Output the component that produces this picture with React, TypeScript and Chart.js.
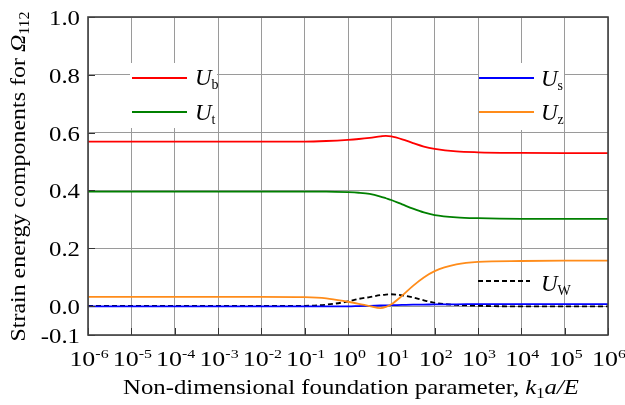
import { useEffect, useRef } from "react";
import { Chart, registerables } from "chart.js";
Chart.register(...registerables);

// ---- data ----
const xExponents = [-6, -5, -4, -3, -2, -1, -0.5, 0, 0.25, 0.5, 0.75, 0.875, 1, 1.25, 1.5, 1.75, 2, 2.5, 3, 4, 5, 6];
const Ub = [0.569, 0.569, 0.569, 0.569, 0.569, 0.569, 0.571, 0.575, 0.578, 0.582, 0.587, 0.589, 0.587, 0.577, 0.564, 0.552, 0.544, 0.535, 0.532, 0.530, 0.529, 0.529];
const Ut = [0.396, 0.396, 0.396, 0.396, 0.396, 0.396, 0.396, 0.394, 0.392, 0.388, 0.379, 0.373, 0.367, 0.352, 0.337, 0.324, 0.315, 0.307, 0.304, 0.302, 0.302, 0.302];
const Us = [-0.001, -0.001, -0.001, -0.001, -0.001, -0.001, -0.001, -0.001, 0.0, 0.001, 0.002, 0.0025, 0.003, 0.004, 0.005, 0.005, 0.006, 0.006, 0.007, 0.007, 0.007, 0.007];
const Uz = [0.032, 0.032, 0.032, 0.032, 0.032, 0.031, 0.027, 0.015, 0.008, 0.0, -0.007, -0.003, 0.006, 0.036, 0.07, 0.099, 0.121, 0.144, 0.153, 0.156, 0.157, 0.157];
const Uw = [0.001, 0.001, 0.001, 0.001, 0.001, 0.001, 0.005, 0.016, 0.025, 0.031, 0.038, 0.040, 0.041, 0.037, 0.030, 0.020, 0.011, 0.004, 0.001, -0.001, -0.001, -0.001];

const xTickExponents = [-6, -5, -4, -3, -2, -1, 0, 1, 2, 3, 4, 5, 6];
const yTickValues = [-0.1, 0.0, 0.2, 0.4, 0.6, 0.8, 1.0];
const yTickLabels = ["-0.1", "0.0", "0.2", "0.4", "0.6", "0.8", "1.0"];

const SERIF = '"Liberation Serif", "Times New Roman", serif';
const SX = 1.18;

type Run = { t: string; f: string; dy?: number };

function runsWidth(ctx: CanvasRenderingContext2D, runs: Run[], sx: number) {
  let w = 0;
  for (const r of runs) {
    ctx.font = r.f;
    w += ctx.measureText(r.t).width * sx;
  }
  return w;
}

function drawRuns(ctx: CanvasRenderingContext2D, runs: Run[], x: number, y: number, align: "left" | "center" | "right", sx: number) {
  const w = runsWidth(ctx, runs, sx);
  let cx = align === "left" ? x : align === "center" ? x - w / 2 : x - w;
  ctx.textAlign = "left";
  ctx.textBaseline = "alphabetic";
  for (const r of runs) {
    ctx.font = r.f;
    const rw = ctx.measureText(r.t).width;
    ctx.save();
    ctx.translate(cx, y + (r.dy || 0));
    ctx.scale(sx, 1);
    ctx.fillText(r.t, 0, 0);
    ctx.restore();
    cx += rw * sx;
  }
}

const decorPlugin = {
  id: "decor",
  afterDatasetsDraw(chart: any) {
    const ctx: CanvasRenderingContext2D = chart.ctx;
    const { left, right, top, bottom } = chart.chartArea;
    const xs = chart.scales.x;
    const ys = chart.scales.y;
    ctx.save();

    // legend boxes
    ctx.fillStyle = "#fff";
    ctx.fillRect(130, 63, 87, 65);
    ctx.fillRect(479, 63, 85, 67);

    const legendLine = (x1: number, x2: number, y: number, color: string, dash: number[] = []) => {
      ctx.save();
      ctx.strokeStyle = color;
      ctx.lineWidth = 1.8;
      ctx.setLineDash(dash);
      ctx.beginPath();
      ctx.moveTo(x1, y);
      ctx.lineTo(x2, y);
      ctx.stroke();
      ctx.restore();
    };
    legendLine(132, 187, 78, "#ff0000");
    legendLine(132, 187, 112, "#008000");
    legendLine(479, 534, 78, "#0000ff");
    legendLine(479, 534, 112, "#ff8c1a");
    legendLine(478, 530, 281, "#000000", [5, 3]);

    ctx.fillStyle = "#000";
    const U = `italic 23px ${SERIF}`;
    const sub = `14px ${SERIF}`;
    drawRuns(ctx, [{ t: "U", f: U }, { t: "b", f: sub, dy: 4 }], 195, 85, "left", 1.0);
    drawRuns(ctx, [{ t: "U", f: U }, { t: "t", f: sub, dy: 4 }], 195, 120, "left", 1.0);
    drawRuns(ctx, [{ t: "U", f: U }, { t: "s", f: sub, dy: 4 }], 541, 86, "left", 1.0);
    drawRuns(ctx, [{ t: "U", f: U }, { t: "z", f: sub, dy: 4 }], 541, 120, "left", 1.0);
    drawRuns(ctx, [{ t: "U", f: U }, { t: "W", f: sub, dy: 4 }], 541, 291, "left", 1.0);

    // inward ticks
    ctx.strokeStyle = "#333";
    ctx.lineWidth = 1;
    ctx.beginPath();
    for (const v of yTickValues) {
      const py = Math.round(ys.getPixelForValue(v)) + 0.5;
      ctx.moveTo(left, py);
      ctx.lineTo(left + 7, py);
    }
    for (const e of xTickExponents) {
      const px = Math.round(xs.getPixelForValue(Math.pow(10, e))) + 0.5;
      ctx.moveTo(px, bottom);
      ctx.lineTo(px, bottom - 7);
    }
    ctx.stroke();

    // frame
    ctx.strokeStyle = "#404040";
    ctx.lineWidth = 1.6;
    ctx.strokeRect(left, top, right - left, bottom - top);

    // y tick labels
    ctx.fillStyle = "#000";
    yTickValues.forEach((v, i) => {
      const py = ys.getPixelForValue(v);
      drawRuns(ctx, [{ t: yTickLabels[i], f: `21px ${SERIF}` }], 80, py + 8, "right", SX);
    });

    // x tick labels
    for (const e of xTickExponents) {
      const px = xs.getPixelForValue(Math.pow(10, e));
      drawRuns(ctx, [{ t: "10", f: `22px ${SERIF}` }, { t: String(e), f: `13.5px ${SERIF}`, dy: -8 }], px + 1, 365.5, "center", SX);
    }

    // x title
    drawRuns(
      ctx,
      [
        { t: "Non-dimensional foundation parameter, ", f: `21px ${SERIF}` },
        { t: "k", f: `italic 21px ${SERIF}` },
        { t: "1", f: `14px ${SERIF}`, dy: 4 },
        { t: "a/E", f: `italic 21px ${SERIF}` },
      ],
      351,
      394,
      "center",
      SX
    );

    // y title
    ctx.save();
    ctx.translate(25, 176.5);
    ctx.rotate(-Math.PI / 2);
    drawRuns(
      ctx,
      [
        { t: "Strain energy components for ", f: `21px ${SERIF}` },
        { t: "Ω", f: `italic 21px ${SERIF}` },
        { t: "112", f: `14px ${SERIF}`, dy: 4 },
      ],
      0,
      0,
      "center",
      1.14
    );
    ctx.restore();

    ctx.restore();
  },
};

function mk(vals: number[]) {
  return vals.map((y, i) => ({ x: Math.pow(10, xExponents[i]), y }));
}

export default function App() {
  const ref = useRef<HTMLCanvasElement | null>(null);
  useEffect(() => {
    document.body.style.margin = "0";
    const canvas = ref.current!;
    const common = { pointRadius: 0, borderWidth: 1.8, cubicInterpolationMode: "monotone" as const, fill: false };
    const chart = new Chart(canvas, {
      type: "line",
      data: {
        datasets: [
          { label: "Ub", data: mk(Ub), borderColor: "#ff0000", ...common },
          { label: "Ut", data: mk(Ut), borderColor: "#008000", ...common },
          { label: "Uz", data: mk(Uz), borderColor: "#ff8c1a", ...common },
          { label: "Us", data: mk(Us), borderColor: "#0000ff", ...common },
          { label: "Uw", data: mk(Uw), borderColor: "#000000", borderDash: [5, 3], ...common },
        ],
      },
      options: {
        responsive: false,
        animation: false,
        layout: { padding: { left: 88, right: 17, top: 17, bottom: 70 } },
        plugins: { legend: { display: false }, tooltip: { enabled: false } },
        scales: {
          x: {
            type: "logarithmic",
            min: 1e-6,
            max: 1e6,
            afterBuildTicks: (s: any) => {
              s.ticks = xTickExponents.map((e) => ({ value: Math.pow(10, e) }));
            },
            ticks: { display: false },
            border: { display: false },
            grid: { color: "#9a9a9a", lineWidth: 1, drawTicks: false },
          },
          y: {
            type: "linear",
            min: -0.1,
            max: 1.0,
            afterBuildTicks: (s: any) => {
              s.ticks = yTickValues.map((v) => ({ value: v }));
            },
            ticks: { display: false },
            border: { display: false },
            grid: { color: "#9a9a9a", lineWidth: 1, drawTicks: false },
          },
        },
      },
      plugins: [decorPlugin],
    });
    return () => chart.destroy();
  }, []);
  return <canvas ref={ref} width={625} height={405} style={{ display: "block" }} />;
}
